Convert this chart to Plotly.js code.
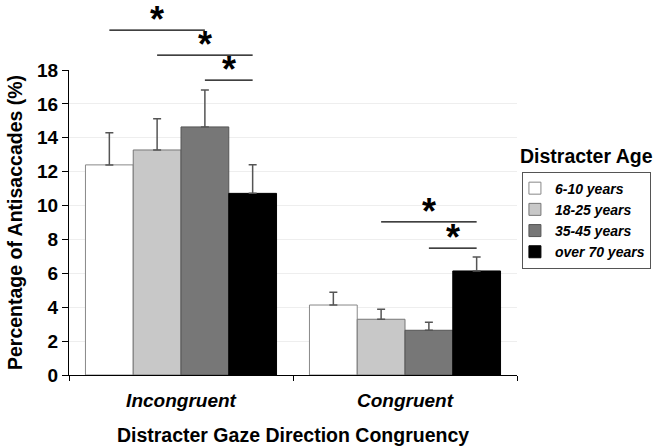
<!DOCTYPE html>
<html><head><meta charset="utf-8">
<script src="https://cdn.plot.ly/plotly-3.0.1.min.js"></script>
<style>html,body{margin:0;padding:0;background:#fff;}#chart{width:660px;height:447px;}</style>
</head><body><div id="chart"></div>
<script>
const categories = ["Incongruent", "Congruent"];
const seriesNames = ["6-10 years", "18-25 years", "35-45 years", "over 70 years"];
const age6_10 = [12.4, 4.13];
const age18_25 = [13.28, 3.29];
const age35_45 = [14.64, 2.64];
const ageOver70 = [10.72, 6.14];
const err6_10 = [1.9, 0.75];
const err18_25 = [1.85, 0.59];
const err35_45 = [2.18, 0.47];
const errOver70 = [1.69, 0.83];
const yTicks = [0, 2, 4, 6, 8, 10, 12, 14, 16, 18];

const values = [age6_10, age18_25, age35_45, ageOver70];
const errors = [err6_10, err18_25, err35_45, errOver70];
const fills = ["#ffffff", "#c8c8c8", "#777777", "#000000"];
const lines = ["#888888", "#777777", "#555555", "#000000"];

const font = "Liberation Sans, Arial, sans-serif";
const traces = values.map((v, i) => ({
  type: "bar", name: seriesNames[i], x: categories, y: v,
  marker: {color: fills[i], line: {color: lines[i], width: 1}},
  error_y: {type: "data", array: errors[i], arrayminus: errors[i].map(() => 0), symmetric: false,
            color: "#555555", thickness: 1.5, width: 4}
}));

// significance brackets: [category index, from bar, to bar, paper y]
const bw = 0.853 / 4;
const off = k => -0.853 / 2 + bw * (k + 0.5);
const sig = [[0, 0, 2, 1.131], [0, 1, 3, 1.049], [0, 2, 3, 0.967], [1, 1, 3, 0.502], [1, 2, 3, 0.416]];
const shapes = sig.map(s => ({type: "line", xref: "x", yref: "paper",
  x0: s[0] + off(s[1]), x1: s[0] + off(s[2]), y0: s[3], y1: s[3], line: {color: "#000", width: 1.2}}));
const annotations = sig.map(s => ({xref: "x", yref: "paper", x: s[0] + (off(s[1]) + off(s[2])) / 2, y: s[3],
  yanchor: "bottom", yshift: -12, text: "*", showarrow: false, font: {family: font, size: 36, weight: "bold", color: "#000"}}));
annotations.push({xref: "paper", yref: "paper", x: 1.003, y: 0.675, xanchor: "left", yanchor: "bottom",
  text: "Distracter Age", showarrow: false, font: {family: font, size: 19.5, weight: "bold", color: "#000"}});

const layout = {
  width: 660, height: 447,
  margin: {l: 69, r: 143, t: 70, b: 72, autoexpand: false},
  paper_bgcolor: "#fff", plot_bgcolor: "#fff",
  barmode: "group", bargap: 0.147, bargroupgap: 0,
  font: {family: font, color: "#000"},
  showlegend: true,
  legend: {x: 1.011, y: 0.667, xanchor: "left", yanchor: "top", bordercolor: "#555", borderwidth: 1,
    tracegroupgap: 0, itemwidth: 30, indentation: -8,
    font: {family: font, size: 14, weight: "bold", style: "italic", color: "#000"}},
  xaxis: {type: "category", showline: true, linecolor: "#000", linewidth: 1, ticks: "outside", tickson: "boundaries",
    ticklen: 5, tickcolor: "#000", ticklabelstandoff: 8, tickfont: {family: font, size: 19, weight: "bold", style: "italic"},
    title: {text: "Distracter Gaze Direction Congruency", font: {family: font, size: 19.5, weight: "bold"}, standoff: 18}},
  yaxis: {range: [0, 18], tickvals: yTicks, showline: true, linecolor: "#000", linewidth: 1, ticks: "outside",
    ticklen: 6, tickcolor: "#000", gridcolor: "#eeeeee", zeroline: false,
    tickfont: {family: font, size: 19, weight: "bold"},
    title: {text: "Percentage of Antisaccades (%)", font: {family: font, size: 19.5, weight: "bold"}, standoff: 9}},
  shapes: shapes, annotations: annotations
};
Plotly.newPlot("chart", traces, layout, {displayModeBar: false});
</script></body></html>
